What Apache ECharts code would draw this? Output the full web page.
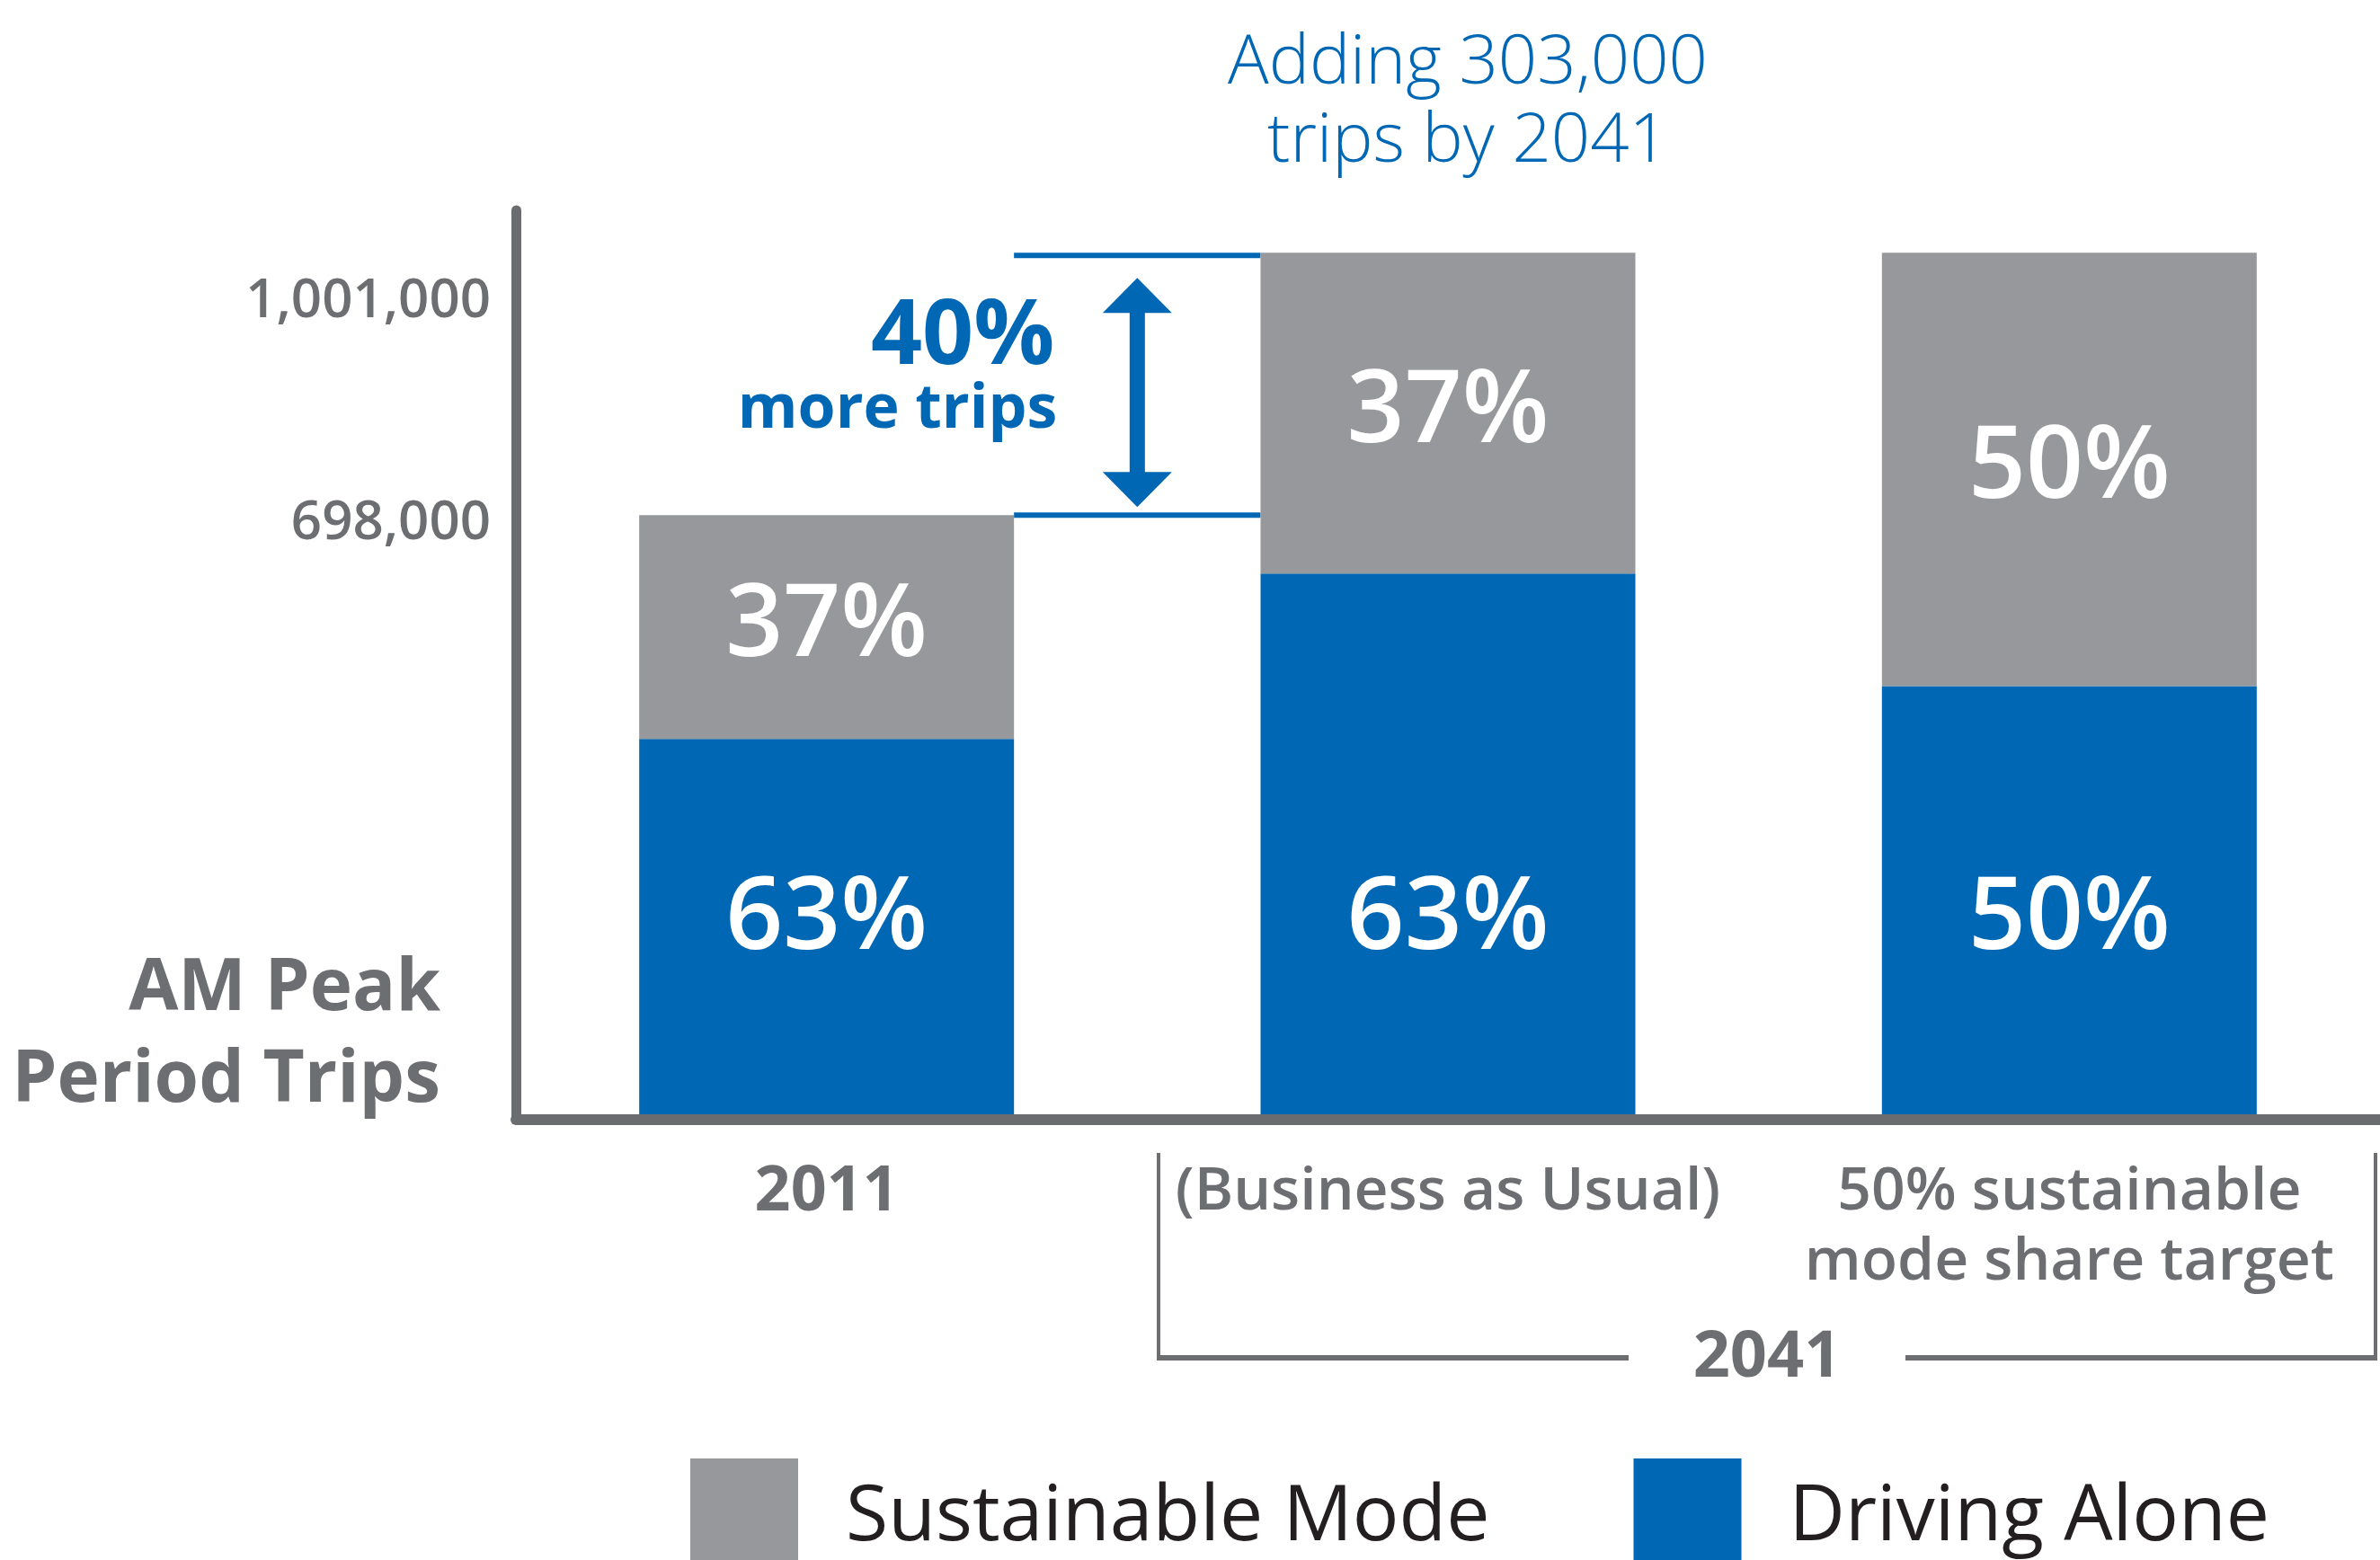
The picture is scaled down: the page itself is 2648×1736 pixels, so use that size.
<!DOCTYPE html>
<html><head><meta charset="utf-8">
<script src="https://cdn.jsdelivr.net/npm/echarts@6/dist/echarts.min.js"></script>
<style>html,body{margin:0;padding:0;background:#fff}#c{width:2648px;height:1736px}</style>
</head><body><div id="c"></div>
<script>
// ---- data ----
const categories = ['2011', '(Business as Usual)', '50% sustainable\nmode share target'];
const totalTrips = [698000, 1001000, 1001000];
const drivingAlone = [439740, 630630, 500500];
const sustainableMode = [258260, 370370, 500500];
const drivingShare = ['63%', '63%', '50%'];
const sustainableShare = ['37%', '37%', '50%'];
const yTickValues = [698000, 1001000];
const groupLabel = '2041';
const headline = 'Adding 303,000\ntrips by 2041';
const increaseLabel = '40%';
const increaseSub = 'more trips';
const axisTitle = 'AM Peak\nPeriod Trips';
const seriesNames = ['Driving Alone', 'Sustainable Mode'];

// ---- styles ----
const BLUE = '#0067b4', GRAY = '#97989b', AXIS = '#6b6c70', TEXT = '#6d6e71';
const FONT = '"Open Sans", "Noto Sans", sans-serif';
const BAR_W = 417;

const chart = echarts.init(document.getElementById('c'), null, {renderer: 'canvas'});

const pctLabel = (arr) => (p) => arr[p.dataIndex];

chart.setOption({
  animation: false,
  backgroundColor: '#fff',
  textStyle: {fontFamily: FONT},
  grid: {left: 574, right: 0, top: 234, bottom: 490, containLabel: false, outerBoundsMode: 'none'},
  legend: {
    data: ['Sustainable Mode', 'Driving Alone'],
    left: 763, top: 1618,
    itemWidth: 120, itemHeight: 120, itemGap: 160,
    icon: 'rect', selectedMode: false,
    formatter: (n) => '{t|' + n + '}',
    textStyle: {
      fontFamily: FONT, fontSize: 86, color: '#231f20',
      rich: {t: {fontFamily: FONT, fontSize: 86, color: '#231f20', padding: [12, 0, 0, 48]}}
    }
  },
  xAxis: {
    type: 'category',
    data: categories,
    z: 3,
    axisLine: {show: true, lineStyle: {color: AXIS, width: 12}},
    axisTick: {show: false},
    axisLabel: {
      margin: 42,
      interval: 0,
      color: TEXT,
      formatter: (v, i) => v.split('\n').map(l => '{' + (i === 0 ? 'b' : 'm') + '|' + l + '}').join('\n'),
      rich: {
        b: {fontFamily: FONT, fontWeight: 'bold', fontSize: 70, lineHeight: 78, color: TEXT},
        m: {fontFamily: FONT, fontWeight: 600, fontSize: 66, lineHeight: 78, color: TEXT}
      }
    }
  },
  yAxis: {
    type: 'value',
    min: 0, max: 1050000,
    splitLine: {show: false},
    axisTick: {show: false},
    axisLine: {show: true, lineStyle: {color: AXIS, width: 11}},
    axisLabel: {
      customValues: yTickValues,
      margin: 28,
      color: TEXT,
      formatter: (v) => (v === yTickValues[1] ? '{hi|' : '{lo|') + v.toLocaleString('en-US') + '}',
      rich: {
        hi: {fontFamily: FONT, fontWeight: 600, fontSize: 60, lineHeight: 60, color: TEXT, padding: [110, 0, 0, 0]},
        lo: {fontFamily: FONT, fontWeight: 600, fontSize: 60, lineHeight: 60, color: TEXT, padding: [20, 0, 0, 0]}
      }
    }
  },
  series: [
    {
      name: seriesNames[0], type: 'bar', stack: 'trips', barWidth: BAR_W,
      data: drivingAlone,
      itemStyle: {color: BLUE},
      label: {
        show: true, position: 'insideBottom', distance: 166,
        formatter: pctLabel(drivingShare),
        color: '#fff', fontFamily: FONT, fontWeight: 600, fontSize: 112, lineHeight: 112
      }
    },
    {
      name: seriesNames[1], type: 'bar', stack: 'trips', barWidth: BAR_W,
      data: sustainableMode,
      itemStyle: {color: GRAY},
      label: {
        show: true, position: 'inside',
        formatter: pctLabel(sustainableShare),
        color: '#fff', fontFamily: FONT, fontWeight: 600, fontSize: 112, lineHeight: 112
      }
    }
  ]
});

// ---- annotations positioned from the axes ----
const px = (ci, v) => chart.convertToPixel({xAxisIndex: 0, yAxisIndex: 0}, [ci, v]);
const [x0, yLow] = px(0, totalTrips[0]);
const [x1, yHigh] = px(1, totalTrips[1]);
const [x2, axisY] = px(2, 0);
const half = BAR_W / 2;
const lineL = x0 + half, lineR = x1 - half;
const ax = (lineL + lineR) / 2;
const tipTop = yHigh + 28, tipBot = yLow - 9;
const headLen = 39, headHalf = 38.5, shaftW = 17;

const bracketL = x1 - 322;
const bracketR = Math.min(x2 + 358, 2643);
const bracketTop = axisY + 37, bracketBot = axisY + 265;
const bracketMid = (bracketL + bracketR) / 2;

const g = [];
g.push({type: 'line', shape: {x1: lineL, y1: yHigh + 3, x2: lineR, y2: yHigh + 3}, style: {stroke: BLUE, lineWidth: 6}});
g.push({type: 'line', shape: {x1: lineL, y1: yLow, x2: lineR, y2: yLow}, style: {stroke: BLUE, lineWidth: 6}});
g.push({type: 'rect', shape: {x: ax - shaftW / 2, y: tipTop + headLen - 1, width: shaftW, height: (tipBot - headLen + 1) - (tipTop + headLen - 1)}, style: {fill: BLUE}});
g.push({type: 'polygon', shape: {points: [[ax, tipTop], [ax + headHalf, tipTop + headLen], [ax - headHalf, tipTop + headLen]]}, style: {fill: BLUE}});
g.push({type: 'polygon', shape: {points: [[ax, tipBot], [ax + headHalf, tipBot - headLen], [ax - headHalf, tipBot - headLen]]}, style: {fill: BLUE}});
g.push({type: 'text', x: ax - 92, y: yHigh + 95, style: {text: increaseLabel, fill: BLUE, font: 'bold 100px ' + FONT, align: 'right', verticalAlign: 'middle'}});
g.push({type: 'text', x: ax - 89, y: yHigh + 175, style: {text: increaseSub, fill: BLUE, font: 'bold 68px ' + FONT, align: 'right', verticalAlign: 'middle'}});
g.push({type: 'text', x: x1 + 22, y: 28, style: {text: headline, fill: BLUE, font: '300 76px ' + FONT, lineHeight: 87, align: 'center', verticalAlign: 'top'}});
g.push({type: 'text', x: 490, y: 1050, style: {text: axisTitle, fill: TEXT, font: 'bold 80px ' + FONT, lineHeight: 102, align: 'right', verticalAlign: 'top'}});
// 2041 bracket
g.push({type: 'line', shape: {x1: bracketL, y1: bracketTop, x2: bracketL, y2: bracketBot}, style: {stroke: TEXT, lineWidth: 4}});
g.push({type: 'line', shape: {x1: bracketR, y1: bracketTop, x2: bracketR, y2: bracketBot}, style: {stroke: TEXT, lineWidth: 4}});
g.push({type: 'line', shape: {x1: bracketL - 2, y1: bracketBot, x2: bracketMid - 154, y2: bracketBot}, style: {stroke: TEXT, lineWidth: 6}});
g.push({type: 'line', shape: {x1: bracketMid + 154, y1: bracketBot, x2: bracketR + 2, y2: bracketBot}, style: {stroke: TEXT, lineWidth: 6}});
g.push({type: 'text', x: bracketMid, y: bracketBot, style: {text: groupLabel, fill: TEXT, font: 'bold 72px ' + FONT, align: 'center', verticalAlign: 'middle'}});

chart.setOption({graphic: g});
</script>
</body></html>
